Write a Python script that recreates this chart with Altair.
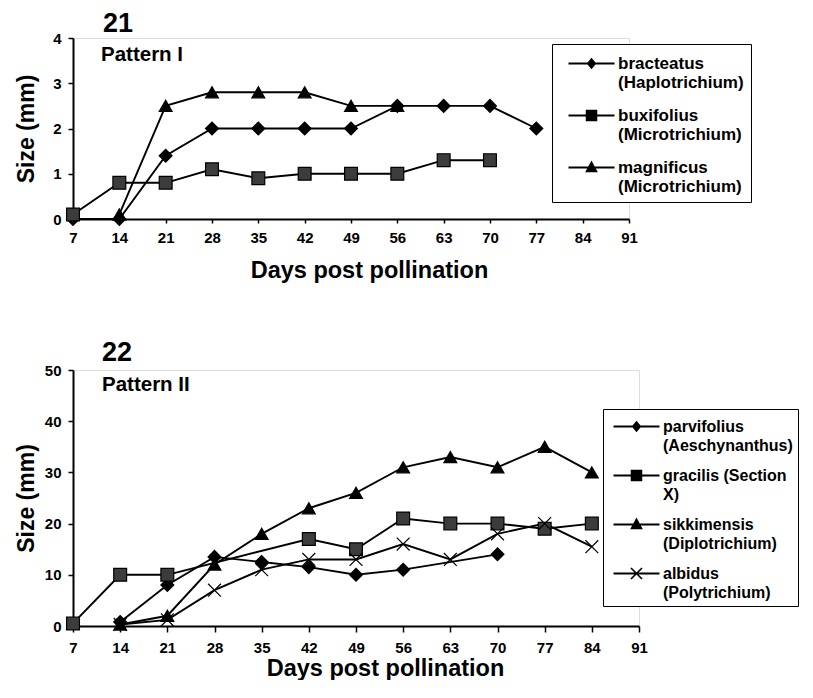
import altair as alt
import pandas as pd

FONT = "Liberation Sans"

# ---------------- data ----------------
day_ticks = [7, 14, 21, 28, 35, 42, 49, 56, 63, 70, 77, 84, 91]

top_names = ["bracteatus|(Haplotrichium)", "buxifolius|(Microtrichium)", "magnificus|(Microtrichium)"]
bracteatus_days = [7, 14, 21, 28, 35, 42, 49, 56, 63, 70, 77]
bracteatus_size = [0, 0, 1.4, 2, 2, 2, 2, 2.5, 2.5, 2.5, 2]
buxifolius_days = [7, 14, 21, 28, 35, 42, 49, 56, 63, 70]
buxifolius_size = [0.1, 0.8, 0.8, 1.1, 0.9, 1.0, 1.0, 1.0, 1.3, 1.3]
magnificus_days = [14, 21, 28, 35, 42, 49, 56]
magnificus_size = [0.1, 2.5, 2.8, 2.8, 2.8, 2.5, 2.5]

bot_names = ["parvifolius|(Aeschynanthus)", "gracilis (Section|X)", "sikkimensis|(Diplotrichium)", "albidus|(Polytrichium)"]
parvifolius_days = [14, 21, 28, 35, 42, 49, 56, 70]
parvifolius_size = [0.8, 8, 13.5, 12.5, 11.5, 10, 11, 14]
gracilis_days = [7, 14, 21, 42, 49, 56, 63, 70, 77, 84]
gracilis_size = [0.5, 10, 10, 17, 15, 21, 20, 20, 19, 20]
sikkimensis_days = [14, 21, 28, 35, 42, 49, 56, 63, 70, 77, 84]
sikkimensis_size = [0.3, 2, 12, 18, 23, 26, 31, 33, 31, 35, 30]
albidus_days = [14, 21, 28, 35, 42, 49, 56, 63, 70, 77, 84]
albidus_size = [0.3, 1.2, 7, 11, 13, 13, 16, 13, 18, 20, 15.5]

top_ticks = [0, 1, 2, 3, 4]
bot_ticks = [0, 10, 20, 30, 40, 50]


def frame(names, days_list, size_list):
    rows = []
    for n, ds, ss in zip(names, days_list, size_list):
        for d, s in zip(ds, ss):
            rows.append({"series": n, "day": d, "size": s})
    return pd.DataFrame(rows)


top_df = frame(top_names, [bracteatus_days, buxifolius_days, magnificus_days],
               [bracteatus_size, buxifolius_size, magnificus_size])
bot_df = frame(bot_names, [parvifolius_days, gracilis_days, sikkimensis_days, albidus_days],
               [parvifolius_size, gracilis_size, sikkimensis_size, albidus_size])

X_PATH = "M-1,-1L1,1M-1,1L1,-1"

# legend glyphs: a line with the marker on it, drawn as filled outlines (all clockwise)
LEG_LINE = "M-2,-0.08L2,-0.08L2,0.08L-2,0.08Z"
LEG_MARK = {
    "diamond": "M-0.42,0L0,-0.5L0.42,0L0,0.5Z",
    "square": "M-0.5,-0.5L0.5,-0.5L0.5,0.5L-0.5,0.5Z",
    "triangle-up": "M0,-0.6L0.55,0.42L-0.55,0.42Z",
    X_PATH: ("M-0.43,-0.53L0.53,0.43L0.43,0.53L-0.53,-0.43Z"
             "M-0.53,0.43L0.43,-0.53L0.53,-0.43L-0.43,0.53Z"),
}


def panel(df, names, shapes, fills, ymax, yticks, width, height, tick_size,
          label_pad, xtitle_x, xtitle_y, leg_x, leg_y, leg_pad, sym_off, row_pad, leg_font,
          num, num_x, num_y, pat, pat_x, pat_y):
    x = alt.X("day:Q", scale=alt.Scale(domain=[7, 91], nice=False, zero=False),
              axis=alt.Axis(values=day_ticks, title="Days post pollination", grid=False,
                            domainColor="black", domainWidth=2, tickColor="black", tickWidth=1.5,
                            tickSize=tick_size, labelPadding=label_pad, labelFont=FONT,
                            labelFontSize=15, labelFontWeight="bold", labelColor="black",
                            labelFlush=False, labelOverlap=False,
                            titleFont=FONT, titleFontSize=23.5, titleFontWeight="bold",
                            titleColor="black", titleX=xtitle_x, titleY=xtitle_y,
                            titleBaseline="alphabetic", titleAlign="center"))
    y = alt.Y("size:Q", scale=alt.Scale(domain=[0, ymax], nice=False),
              axis=alt.Axis(values=yticks, title="Size (mm)", grid=False,
                            domainColor="black", domainWidth=2, tickColor="black", tickWidth=1.5,
                            tickSize=5, labelPadding=7, labelFont=FONT, labelFontSize=15,
                            labelFontWeight="bold", labelColor="black",
                            titleFont=FONT, titleFontSize=23, titleFontWeight="bold",
                            titleColor="black", titleX=-40, titleY=height / 2,
                            titleBaseline="alphabetic", titleAlign="center"))
    base = alt.Chart(df)
    lines = base.mark_line(color="black", strokeWidth=1.9).encode(x=x, y=y, detail="series:N")
    pts = base.mark_point(filled=True, stroke="black", strokeWidth=1.2, opacity=1).encode(
        x=x, y=y,
        shape=alt.Shape("series:N", scale=alt.Scale(domain=names, range=shapes), legend=None),
        fill=alt.Fill("series:N", scale=alt.Scale(domain=names, range=fills), legend=None),
        size=alt.value(165),
    )
    leg = base.transform_filter("false").mark_point(filled=True, color="black", opacity=1).encode(
        x=x, y=y,
        shape=alt.Shape("series:N",
                        scale=alt.Scale(domain=names, range=[LEG_LINE + LEG_MARK[s] for s in shapes]),
                        legend=alt.Legend(title=None, orient="none", legendX=leg_x, legendY=leg_y,
                                          padding=leg_pad, symbolOffset=sym_off, symbolSize=529,
                                          symbolFillColor="black", symbolOpacity=1,
                                          labelExpr="split(datum.label, '|')",
                                          labelFont=FONT, labelFontSize=leg_font, labelFontWeight="bold",
                                          labelColor="black", labelLimit=400, labelOffset=14,
                                          rowPadding=row_pad, strokeColor="black", fillColor="white")),
    )
    t1 = alt.Chart(pd.DataFrame({"t": [num]})).mark_text(
        font=FONT, fontSize=27, fontWeight="bold", align="left", baseline="alphabetic", color="black"
    ).encode(text="t:N", x=alt.value(num_x), y=alt.value(num_y))
    t2 = alt.Chart(pd.DataFrame({"t": [pat]})).mark_text(
        font=FONT, fontSize=20.5, fontWeight="bold", align="left", baseline="alphabetic", color="black"
    ).encode(text="t:N", x=alt.value(pat_x), y=alt.value(pat_y))
    return alt.layer(lines, pts, leg, t1, t2).resolve_scale(shape="independent").properties(
        width=width, height=height)


top = panel(top_df, top_names, ["diamond", "square", "triangle-up"], ["black", "#3c3c3c", "black"],
            4, top_ticks, 556, 181, 4, 7, 296, 58, 479, 6, 7, 20, 12, 17,
            "21", 30, -6, "Pattern I", 28, 23)
bottom = panel(bot_df, bot_names, ["diamond", "square", "triangle-up", X_PATH],
               ["black", "#3c3c3c", "black", "black"],
               50, bot_ticks, 566, 256, 6, 8, 312, 49, 530, 39, 5, 16, 9, 16,
               "22", 29, -9, "Pattern II", 29, 21)

chart = alt.vconcat(top, bottom, spacing=56).resolve_scale(
    shape="independent", fill="independent"
).properties(padding={"left": 6, "top": 1, "right": 0, "bottom": 0}).configure_view(
    stroke=None
).configure_legend(strokeWidth=2).configure(style={"guide-label": {"lineHeight": 19.5}})

chart.save("out.html", embed_options={"renderer": "svg", "actions": False})
